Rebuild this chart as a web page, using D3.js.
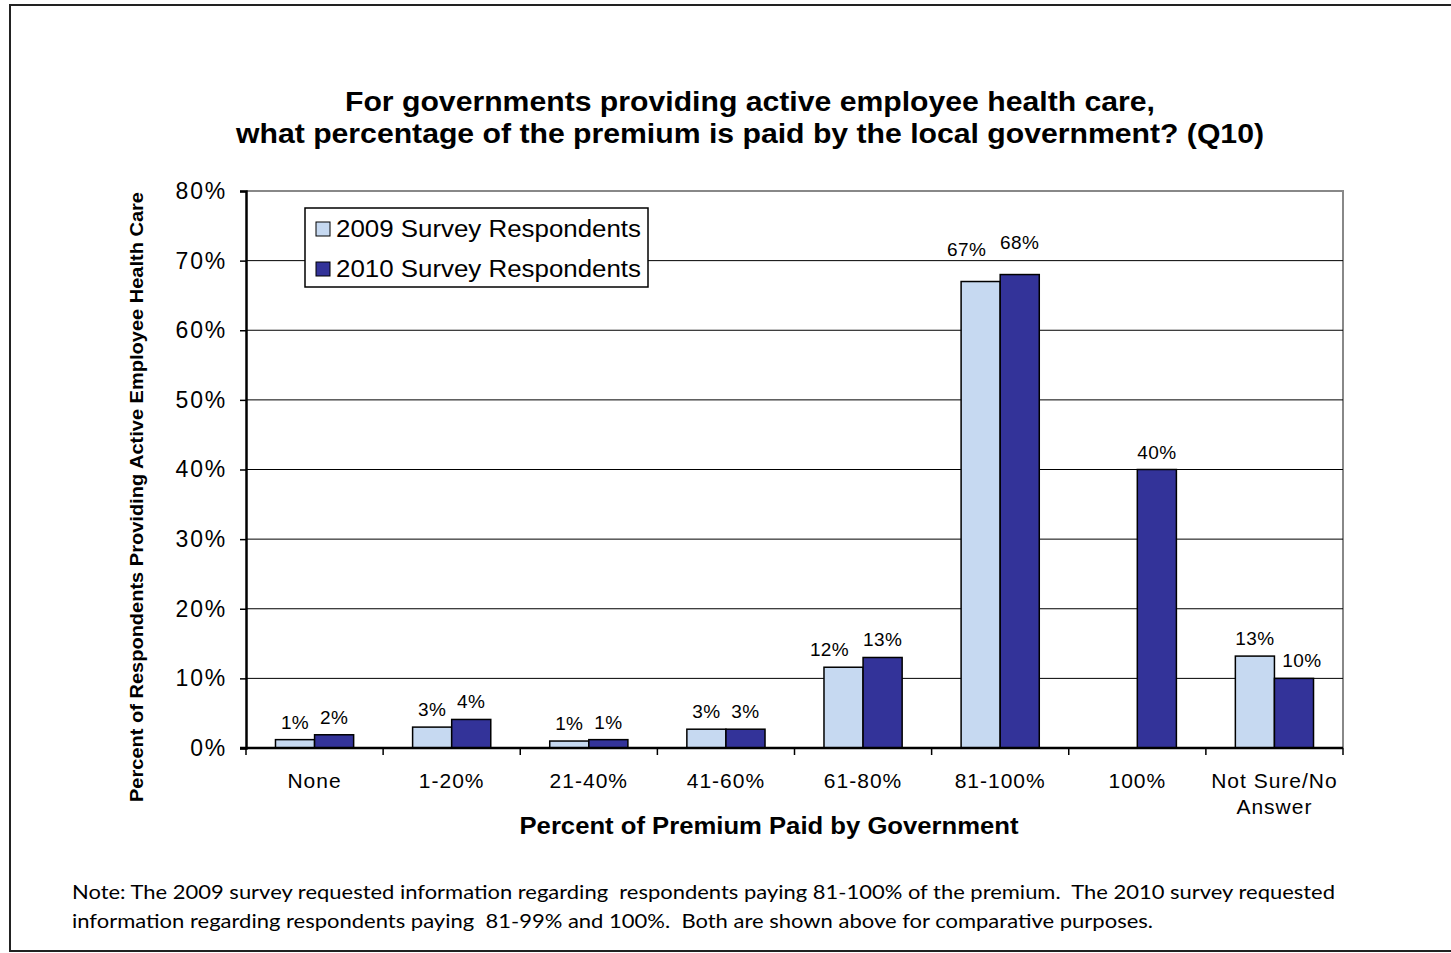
<!DOCTYPE html>
<html>
<head>
<meta charset="utf-8">
<script src="https://cdn.jsdelivr.net/npm/d3@7"></script>
<style>
  body { margin: 0; background: #fff; }
  svg text { font-family: "Liberation Sans", Arial, sans-serif; }
  svg text.note { font-family: Lato, "Open Sans", sans-serif; }
</style>
</head>
<body>
<script>
// Data
const categories = ["None", "1-20%", "21-40%", "41-60%", "61-80%", "81-100%", "100%", "Not Sure/No Answer"]
const series = ["2009 Survey Respondents", "2010 Survey Respondents"]
const values2009 = [1.2, 3.0, 1.0, 2.7, 11.6, 67, null, 13.2]
const values2010 = [1.9, 4.1, 1.2, 2.7, 13, 68, 40, 10]
const labels2009 = ["1%", "3%", "1%", "3%", "12%", "67%", null, "13%"]
const labels2010 = ["2%", "4%", "1%", "3%", "13%", "68%", "40%", "10%"]
const yTicks = [0, 10, 20, 30, 40, 50, 60, 70, 80]
const colors = ["#c6d9f1", "#333399"]

const W = 1451, H = 953
const margin = { top: 191, right: 108, bottom: 205, left: 246 }
const width = W - margin.left - margin.right,
    height = H - margin.top - margin.bottom

const svg = d3.select("body").append("svg")
    .attr("width", W)
    .attr("height", H)

// outer frame
svg.append("rect")
    .attr("x", 10).attr("y", 5)
    .attr("width", W).attr("height", 946)
    .attr("fill", "#fff")
    .attr("stroke", "#222")
    .attr("stroke-width", 2)

// helper for the stretched text of the original
function fitText(sel, len) {
    return sel.attr("textLength", len).attr("lengthAdjust", "spacingAndGlyphs")
}

// title
fitText(svg.append("text")
    .attr("x", 750).attr("y", 111)
    .attr("text-anchor", "middle")
    .attr("font-size", 27).attr("font-weight", "bold")
    .text("For governments providing active employee health care,"), 810)
fitText(svg.append("text")
    .attr("x", 750).attr("y", 143)
    .attr("text-anchor", "middle")
    .attr("font-size", 27).attr("font-weight", "bold")
    .text("what percentage of the premium is paid by the local government? (Q10)"), 1028)

const g = svg.append("g")
    .attr("transform", `translate(${margin.left},${margin.top})`)

const x = d3.scaleBand()
    .domain(categories)
    .range([0, width])

const y = d3.scaleLinear()
    .domain([0, 80])
    .range([height, 0])

const barW = x.bandwidth() * 0.285

// plot border (top/right gray)
g.append("path")
    .attr("d", `M0,0H${width}V${height}`)
    .attr("fill", "none")
    .attr("stroke", "#888")
    .attr("stroke-width", 2)

// gridlines
g.selectAll(".grid")
    .data(yTicks.filter(d => d > 0 && d < 80))
    .enter()
    .append("line")
    .attr("x1", 0).attr("x2", width)
    .attr("y1", d => y(d)).attr("y2", d => y(d))
    .attr("stroke", "#000")
    .attr("stroke-width", 1)

// bars
const data = categories.map((c, i) => ({ c, v: [values2009[i], values2010[i]], l: [labels2009[i], labels2010[i]] }))

data.forEach(d => {
    const cx = x(d.c) + x.bandwidth() / 2
    d.v.forEach((v, k) => {
        if (v == null) return
        const bx = cx + (k - 1) * barW
        g.append("rect")
            .attr("x", bx)
            .attr("y", y(v))
            .attr("width", barW)
            .attr("height", y(0) - y(v))
            .attr("fill", colors[k])
            .attr("stroke", "#000")
            .attr("stroke-width", 1.5)
        // two digit labels get pushed apart like in excel
        const wide = d.l[k].length > 2
        let shift = 0
        if (wide && k == 0 && d.v[1] != null && d.v[1] > v) shift = -14
        if (wide && k == 1 && d.v[0] != null && d.v[0] > v) shift = 8
        let lift = 11
        if (v > 60) lift = 26
        g.append("text")
            .attr("x", bx + barW / 2 + shift)
            .attr("y", y(v) - lift)
            .attr("text-anchor", "middle")
            .attr("font-size", 19)
            .attr("letter-spacing", 0.4)
            .text(d.l[k])
    })
})

// y axis
const yAxis = g.append("g")
    .call(d3.axisLeft(y).tickValues(yTicks).tickFormat(d => d + "%").tickSize(6).tickPadding(13))
yAxis.select(".domain").attr("stroke", "#000").attr("stroke-width", 2.5)
yAxis.selectAll(".tick line").attr("stroke", "#000").attr("stroke-width", 1.5)
yAxis.selectAll("text")
    .attr("font-size", 23)
    .attr("letter-spacing", 1.8)
    .attr("fill", "#000")

// x axis
const xAxis = g.append("g")
    .attr("transform", `translate(0,${height})`)
xAxis.append("line")
    .attr("x1", -6).attr("x2", width)
    .attr("stroke", "#000").attr("stroke-width", 2.5)
xAxis.selectAll(".xtick")
    .data(d3.range(categories.length + 1))
    .enter()
    .append("line")
    .attr("x1", i => i * x.step()).attr("x2", i => i * x.step())
    .attr("y1", 0).attr("y2", 7)
    .attr("stroke", "#000").attr("stroke-width", 1.5)

xAxis.selectAll(".xlabel")
    .data(categories)
    .enter()
    .append("text")
    .attr("x", d => x(d) + x.bandwidth() / 2)
    .attr("y", 40)
    .attr("text-anchor", "middle")
    .attr("font-size", 21)
    .attr("letter-spacing", 1)
    .each(function (d) {
        const parts = d == "Not Sure/No Answer" ? ["Not Sure/No", "Answer"] : [d]
        d3.select(this).selectAll("tspan")
            .data(parts)
            .enter()
            .append("tspan")
            .attr("x", x(d) + x.bandwidth() / 2)
            .attr("dy", (p, i) => i == 0 ? 0 : 26)
            .text(p => p)
    })

// axis titles
fitText(svg.append("text")
    .attr("x", 769).attr("y", 834)
    .attr("text-anchor", "middle")
    .attr("font-size", 23).attr("font-weight", "bold")
    .text("Percent of Premium Paid by Government"), 499)

fitText(svg.append("text")
    .attr("transform", "translate(143,497) rotate(-90)")
    .attr("text-anchor", "middle")
    .attr("font-size", 19).attr("font-weight", "bold")
    .text("Percent of Respondents  Providing Active Employee Health Care"), 610)

// legend
const legend = svg.append("g")
legend.append("rect")
    .attr("x", 305).attr("y", 208)
    .attr("width", 343).attr("height", 79)
    .attr("fill", "#fff").attr("stroke", "#000").attr("stroke-width", 1.5)
series.forEach((s, i) => {
    legend.append("rect")
        .attr("x", 316).attr("y", 222 + i * 40)
        .attr("width", 14).attr("height", 14)
        .attr("fill", colors[i]).attr("stroke", "#000").attr("stroke-width", 1)
    fitText(legend.append("text")
        .attr("x", 336).attr("y", 237 + i * 40)
        .attr("font-size", 23)
        .text(s), 305)
})

// note
const note = ["Note: The 2009 survey requested information regarding  respondents paying 81-100% of the premium.  The 2010 survey requested",
    "information regarding respondents paying  81-99% and 100%.  Both are shown above for comparative purposes."]
const noteLen = [1263, 1081]
note.forEach((t, i) => {
    fitText(svg.append("text")
        .attr("class", "note")
        .attr("x", 72).attr("y", 899 + i * 29)
        .attr("font-size", 20)
        .style("white-space", "pre")
        .text(t), noteLen[i])
})
</script>
</body>
</html>
